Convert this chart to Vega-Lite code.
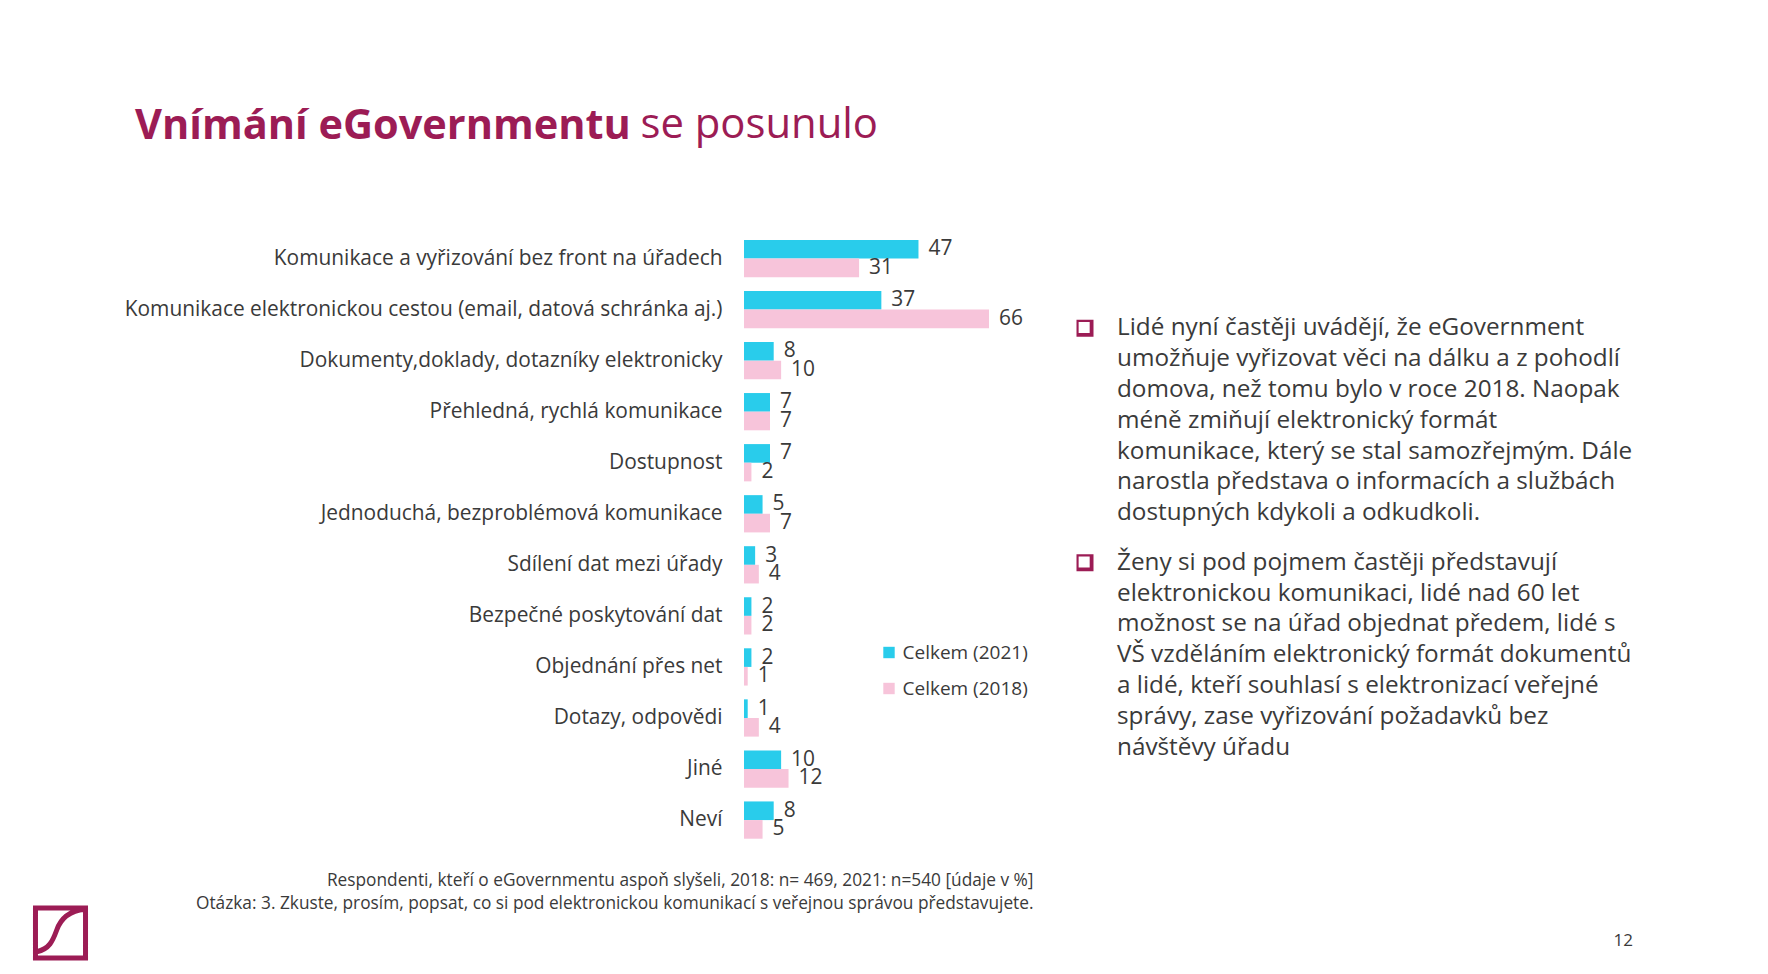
{
  "$schema": "https://vega.github.io/schema/vega-lite/v6.json",
  "padding": {"left": 25, "top": 105, "right": 20, "bottom": 10},
  "autosize": {"type": "pad"},
  "background": "white",
  "bounds": "flush",
  "spacing": 52,
  "resolve": {"scale": {"x": "independent", "y": "independent", "yOffset": "independent"}},
  "config": {"view": {"stroke": null}, "font": "Open Sans", "axis": {"grid": false}},
  "hconcat": [
    {
      "width": 659,
      "height": 727.5,
      "data": {"values": [{"item": "logo"}]},
      "title": {"text": "Vnímání eGovernmentu", "anchor": "start", "frame": "group", "dx": 102, "offset": 86, "fontSize": 41.5, "fontWeight": "bold", "color": "#9C1C55", "font": "Open Sans"},
      "mark": {"type": "point", "shape": "M0.09,-0.09H1.91V-1.91H0.09Z M0.14,-0.32C0.6,-0.42 0.72,-0.72 0.86,-1.1C1.0,-1.5 1.3,-1.8 1.88,-1.86", "size": 3025, "filled": false, "stroke": "#9C1C55", "strokeWidth": 5, "opacity": 1},
      "encoding": {
        "x": {"datum": 0, "type": "quantitative", "scale": {"domain": [0, 1]}, "axis": null},
        "y": {"datum": 0, "type": "quantitative", "scale": {"domain": [0, 1]}, "axis": null}
      }
    },
    {
      "width": 289,
      "height": 612.6,
      "data": {"values": [
        {"category": "Komunikace a vyřizování  bez front na úřadech", "series": "Celkem (2021)", "value": 47},
        {"category": "Komunikace a vyřizování  bez front na úřadech", "series": "Celkem (2018)", "value": 31},
        {"category": "Komunikace elektronickou cestou (email, datová schránka aj.)", "series": "Celkem (2021)", "value": 37},
        {"category": "Komunikace elektronickou cestou (email, datová schránka aj.)", "series": "Celkem (2018)", "value": 66},
        {"category": "Dokumenty,doklady, dotazníky elektronicky", "series": "Celkem (2021)", "value": 8},
        {"category": "Dokumenty,doklady, dotazníky elektronicky", "series": "Celkem (2018)", "value": 10},
        {"category": "Přehledná, rychlá komunikace", "series": "Celkem (2021)", "value": 7},
        {"category": "Přehledná, rychlá komunikace", "series": "Celkem (2018)", "value": 7},
        {"category": "Dostupnost", "series": "Celkem (2021)", "value": 7},
        {"category": "Dostupnost", "series": "Celkem (2018)", "value": 2},
        {"category": "Jednoduchá, bezproblémová komunikace", "series": "Celkem (2021)", "value": 5},
        {"category": "Jednoduchá, bezproblémová komunikace", "series": "Celkem (2018)", "value": 7},
        {"category": "Sdílení dat mezi úřady", "series": "Celkem (2021)", "value": 3},
        {"category": "Sdílení dat mezi úřady", "series": "Celkem (2018)", "value": 4},
        {"category": "Bezpečné poskytování dat", "series": "Celkem (2021)", "value": 2},
        {"category": "Bezpečné poskytování dat", "series": "Celkem (2018)", "value": 2},
        {"category": "Objednání přes net", "series": "Celkem (2021)", "value": 2},
        {"category": "Objednání přes net", "series": "Celkem (2018)", "value": 1},
        {"category": "Dotazy, odpovědi", "series": "Celkem (2021)", "value": 1},
        {"category": "Dotazy, odpovědi", "series": "Celkem (2018)", "value": 4},
        {"category": "Jiné", "series": "Celkem (2021)", "value": 10},
        {"category": "Jiné", "series": "Celkem (2018)", "value": 12},
        {"category": "Neví", "series": "Celkem (2021)", "value": 8},
        {"category": "Neví", "series": "Celkem (2018)", "value": 5}
      ]},
      "title": {"text": "se posunulo", "anchor": "start", "frame": "group", "dx": -103.5, "offset": 86, "fontSize": 41.8, "fontWeight": "normal", "color": "#9C1C55", "font": "Open Sans"},
      "encoding": {
        "y": {"field": "category", "type": "nominal", "sort": null,
              "scale": {"paddingInner": 0.27, "paddingOuter": 0.135},
              "axis": {"title": null, "domain": false, "ticks": false, "labelFontSize": 20.9, "labelColor": "#3a3a3a", "labelPadding": 22, "labelLimit": 1000, "labelFont": "Open Sans"}},
        "yOffset": {"field": "series", "type": "nominal", "sort": ["Celkem (2021)", "Celkem (2018)"], "scale": {"paddingInner": 0, "paddingOuter": 0}},
        "x": {"field": "value", "type": "quantitative", "scale": {"domain": [0, 77.85], "nice": false, "zero": true},
              "axis": {"labels": false, "ticks": false, "domain": false, "grid": false,
                       "title": ["Respondenti, kteří o eGovernmentu aspoň  slyšeli, 2018: n= 469, 2021: n=540 [údaje v %]", "Otázka: 3. Zkuste, prosím, popsat, co si pod elektronickou komunikací s veřejnou správou představujete."],
                       "titleAnchor": "end", "titleAlign": "right", "titleFontSize": 17.3, "titleFontWeight": "normal", "titleColor": "#3a3a3a", "titlePadding": 26, "titleLineHeight": 23, "titleFont": "Open Sans"}}
      },
      "layer": [
        {
          "mark": {"type": "bar"},
          "encoding": {
            "color": {"field": "series", "type": "nominal",
                      "scale": {"domain": ["Celkem (2021)", "Celkem (2018)"], "range": ["#29CCEB", "#F7C4DA"]},
                      "legend": {"orient": "none", "legendX": 846.5, "legendY": 410, "title": null, "symbolType": "square", "symbolSize": 130, "symbolStrokeWidth": 0, "labelFontSize": 19, "labelColor": "#3a3a3a", "rowPadding": 16, "labelOffset": 4, "padding": 0, "labelFont": "Open Sans"}}
          }
        },
        {
          "mark": {"type": "text", "align": "left", "baseline": "middle", "dx": 10, "fontSize": 20.9, "color": "#3a3a3a", "font": "Open Sans"},
          "encoding": {"text": {"field": "value", "type": "quantitative"}}
        }
      ]
    },
    {
      "width": 548,
      "height": 610,
      "data": {"values": [
        {"para": 1, "line": 1, "text": "Lidé nyní častěji uvádějí, že eGovernment"},
        {"para": 1, "line": 2, "text": "umožňuje vyřizovat věci na dálku a z pohodlí"},
        {"para": 1, "line": 3, "text": "domova, než tomu bylo v roce 2018. Naopak"},
        {"para": 1, "line": 4, "text": "méně zmiňují elektronický formát"},
        {"para": 1, "line": 5, "text": "komunikace, který se stal samozřejmým. Dále"},
        {"para": 1, "line": 6, "text": "narostla představa o informacích a službách"},
        {"para": 1, "line": 7, "text": "dostupných kdykoli a odkudkoli."},
        {"para": 2, "line": 1, "text": "Ženy si pod pojmem častěji představují"},
        {"para": 2, "line": 2, "text": "elektronickou komunikaci, lidé nad 60 let"},
        {"para": 2, "line": 3, "text": "možnost se na úřad objednat předem, lidé s"},
        {"para": 2, "line": 4, "text": "VŠ vzděláním elektronický formát dokumentů"},
        {"para": 2, "line": 5, "text": "a lidé, kteří souhlasí s elektronizací veřejné"},
        {"para": 2, "line": 6, "text": "správy, zase vyřizování požadavků bez"},
        {"para": 2, "line": 7, "text": "návštěvy úřadu"}
      ]},
      "title": {"text": "12", "orient": "bottom", "anchor": "end", "frame": "group", "offset": 89.5, "fontSize": 17, "fontWeight": "normal", "color": "#3a3a3a", "font": "Open Sans"},
      "encoding": {
        "x": {"datum": 0, "type": "quantitative", "scale": {"domain": [0, 1]}, "axis": null},
        "y": {"field": "para", "type": "nominal", "scale": {"type": "band", "paddingInner": 0.0806, "paddingOuter": 0.341}, "axis": null},
        "yOffset": {"field": "line", "type": "ordinal", "scale": {"type": "band", "paddingInner": 0, "paddingOuter": 0}}
      },
      "layer": [
        {
          "mark": {"type": "text", "align": "left", "baseline": "middle", "dx": 32, "fontSize": 24.3, "color": "#3a3a3a", "font": "Open Sans"},
          "encoding": {"text": {"field": "text", "type": "nominal"}}
        },
        {
          "transform": [{"filter": "datum.line == 1"}],
          "mark": {"type": "point", "shape": "M-1,-1H1V1H-1Z M-0.75,-0.75V0.55H0.55V-0.75Z", "size": 289, "filled": true, "fill": "#9C1C55", "strokeWidth": 0, "opacity": 1}
        }
      ]
    }
  ]
}
